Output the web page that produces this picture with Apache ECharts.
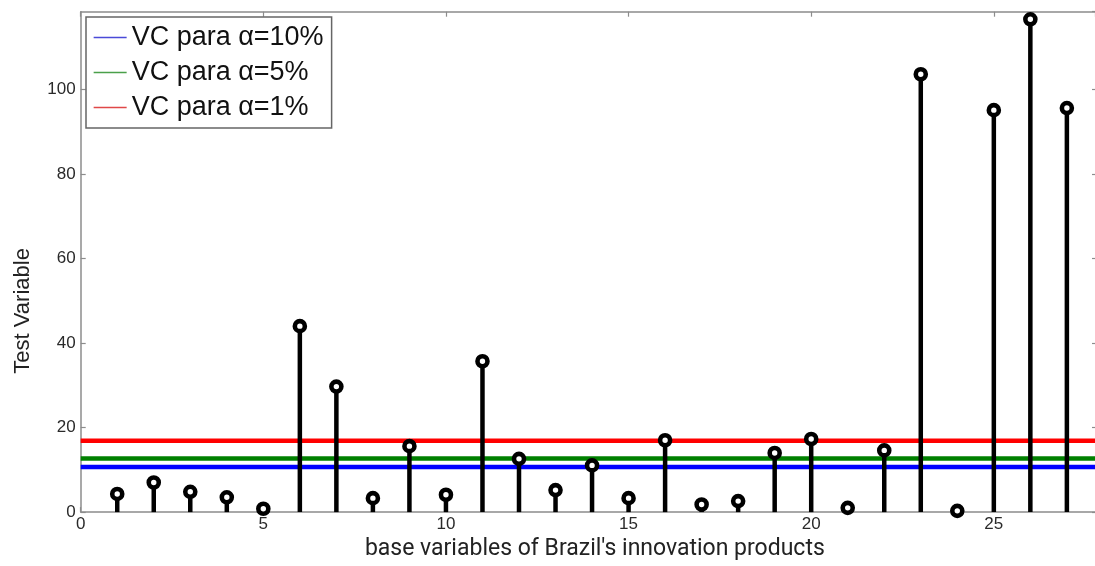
<!DOCTYPE html>
<html>
<head>
<meta charset="utf-8">
<script src="https://cdn.jsdelivr.net/npm/echarts@6/dist/echarts.min.js"></script>
<style>
html,body{margin:0;padding:0;background:#fff;}
#chart{width:1095px;height:566px;}
</style>
</head>
<body>
<div id="chart"></div>
<script>
// ---- data ----
var variableIndex = [1,2,3,4,5,6,7,8,9,10,11,12,13,14,15,16,17,18,19,20,21,22,23,24,25,26,27];
var testValues = [4.3, 7.0, 4.8, 3.5, 0.8, 44.0, 29.7, 3.3, 15.6, 4.1, 35.7, 12.6, 5.2, 11.05, 3.3, 17.0, 1.8, 2.6, 14.0, 17.3, 1.0, 14.6, 103.6, 0.3, 95.1, 116.6, 95.6];
var criticalNames = ['VC para \u03b1=10%', 'VC para \u03b1=5%', 'VC para \u03b1=1%'];
var criticalValues = [10.65, 12.7, 16.9];
var criticalColors = ['#0000ff', '#008000', '#ff0000'];
var legendColors = ['#4a4ad8', '#4aa04a', '#e04848'];
var xTicks = [0, 5, 10, 15, 20, 25];
var yTicks = [0, 20, 40, 60, 80, 100];
var xMin = 0, xMax = 27.77, yMin = 0, yMax = 118.4;

var points = variableIndex.map(function (x, i) { return [x, testValues[i]]; });

var axisGray = '#8c8c8c';
var series = [];
criticalNames.forEach(function (name, i) {
  series.push({
    name: name,
    type: 'line',
    data: [[xMin, criticalValues[i]], [xMax, criticalValues[i]]],
    symbol: 'none',
    lineStyle: { color: criticalColors[i], width: 4.5 },
    itemStyle: { color: criticalColors[i] },
    z: 2,
    silent: true
  });
});
series.push({
  name: 'stems',
  type: 'custom',
  data: points,
  z: 3,
  renderItem: function (params, api) {
    var p0 = api.coord([api.value(0), 0]);
    var p1 = api.coord([api.value(0), api.value(1)]);
    return {
      type: 'line',
      shape: { x1: p0[0], y1: p0[1], x2: p1[0], y2: p1[1] },
      style: { stroke: '#000', lineWidth: 4.5 }
    };
  }
});
series.push({
  name: 'points',
  type: 'scatter',
  data: points,
  symbol: 'circle',
  symbolSize: 10,
  itemStyle: { color: '#fff', borderColor: '#000', borderWidth: 4.6, opacity: 1 },
  z: 4
});

var legendData = criticalNames.map(function (name, i) {
  return {
    name: name,
    lineStyle: { color: legendColors[i], width: 1.3 },
    itemStyle: { color: legendColors[i], opacity: 0, borderWidth: 0 }
  };
});

var chart = echarts.init(document.getElementById('chart'));
chart.setOption({
  animation: false,
  backgroundColor: '#fff',
  grid: { left: 80.7, top: 11.7, bottom: 47.7, right: 0, containLabel: false },
  legend: {
    data: legendData,
    orient: 'vertical',
    left: 86,
    top: 17,
    padding: [7, 8, 7, 7],
    itemGap: 8,
    itemWidth: 33,
    itemHeight: 14,
    backgroundColor: '#fff',
    borderColor: '#666',
    borderWidth: 1.5,
    borderRadius: 0,
    selectedMode: false,
    textStyle: { fontFamily: 'Liberation Sans, Arial, sans-serif', fontSize: 27, color: '#111', lineHeight: 27 }
  },
  xAxis: [{
    type: 'value', min: xMin, max: xMax, interval: 5, position: 'bottom',
    name: "base variables of Brazil's innovation products",
    nameLocation: 'middle', nameGap: 22,
    nameTextStyle: { fontFamily: 'Roboto, sans-serif', fontSize: 23, color: '#222', padding: [0, 0, 0, 14] },
    axisLine: { show: true, onZero: false, lineStyle: { color: axisGray, width: 1.5 } },
    axisTick: { show: true, inside: true, length: 5, lineStyle: { color: axisGray, width: 1.2 } },
    axisLabel: { show: true, margin: 4, showMaxLabel: false, color: '#2a2a2a', fontFamily: 'Liberation Sans, Arial, sans-serif', fontSize: 17,
      formatter: function (v) { return xTicks.indexOf(v) >= 0 ? String(v) : ''; } },
    splitLine: { show: false }
  }, {
    type: 'value', min: xMin, max: xMax, interval: 5, position: 'top',
    axisLine: { show: true, onZero: false, lineStyle: { color: axisGray, width: 1.5 } },
    axisTick: { show: true, inside: true, length: 5, lineStyle: { color: axisGray, width: 1.2 } },
    axisLabel: { show: false },
    splitLine: { show: false }
  }],
  yAxis: [{
    type: 'value', min: yMin, max: yMax, interval: 20, position: 'left',
    name: 'Test Variable',
    nameLocation: 'middle', nameGap: 47, nameRotate: 90,
    nameTextStyle: { fontFamily: 'Liberation Sans, Arial, sans-serif', fontSize: 22, color: '#222', padding: [0, 98, 0, 0] },
    axisLine: { show: true, onZero: false, lineStyle: { color: axisGray, width: 1.5 } },
    axisTick: { show: true, inside: true, length: 5, lineStyle: { color: axisGray, width: 1.2 } },
    axisLabel: { show: true, margin: 5, showMaxLabel: false, color: '#2a2a2a', fontFamily: 'Liberation Sans, Arial, sans-serif', fontSize: 17,
      formatter: function (v) { return yTicks.indexOf(v) >= 0 ? String(v) : ''; } },
    splitLine: { show: false }
  }, {
    type: 'value', min: yMin, max: yMax, interval: 20, position: 'right',
    axisLine: { show: false, onZero: false },
    axisTick: { show: true, inside: true, length: 3, lineStyle: { color: axisGray, width: 1.2 } },
    axisLabel: { show: false },
    splitLine: { show: false }
  }],
  series: series
});
</script>
</body>
</html>
